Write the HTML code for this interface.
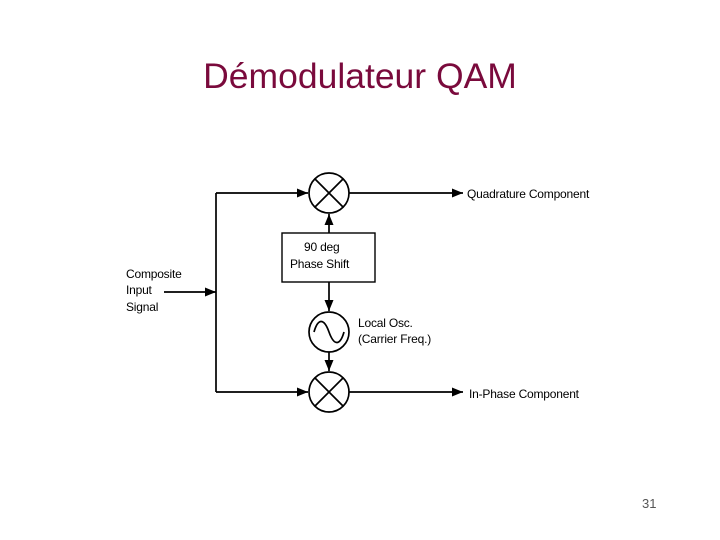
<!DOCTYPE html>
<html><head><style>
body{margin:0;width:720px;height:540px;background:#fff;overflow:hidden;font-family:"Liberation Sans",sans-serif}
</style></head><body>
<div style="position:absolute;left:0;width:720px;top:56px;text-align:center;font-size:35.5px;color:#7a0a3c">Démodulateur QAM</div>
<div style="position:absolute;left:642px;top:496px;font-size:13px;color:#555">31</div>
<svg width="720" height="540" style="position:absolute;left:0;top:0" font-family="Liberation Sans, sans-serif" font-size="12" letter-spacing="-0.2">
<defs><marker id="a" markerWidth="11" markerHeight="9" refX="11" refY="4.5" orient="auto" markerUnits="userSpaceOnUse"><path d="M0,0L11,4.5L0,9z" fill="#000"/></marker></defs>
<g stroke="#000" stroke-width="1.7" fill="none">
<path d="M216,193V392"/>
<path d="M216,193H308" marker-end="url(#a)"/>
<path d="M216,392H308" marker-end="url(#a)"/>
<path d="M164,292H216" marker-end="url(#a)"/>
<path d="M349,193H463" marker-end="url(#a)"/>
<path d="M349,392H463" marker-end="url(#a)"/>
<path d="M329,233V214" marker-end="url(#a)"/>
<path d="M329,282V311" marker-end="url(#a)"/>
<path d="M329,352V371" marker-end="url(#a)"/>
<rect x="282" y="233" width="93" height="49" stroke-width="1.4"/>
<circle cx="329" cy="193" r="20"/><path d="M315,179L343,207M343,179L315,207"/>
<circle cx="329" cy="392" r="20"/><path d="M315,378L343,406M343,378L315,406"/>
<circle cx="329" cy="332" r="20"/>
<path d="M314,332C318,318 324,318 329,332C334,346 340,346 344,332"/>
</g>
<text x="467" y="198">Quadrature Component</text>
<text x="469" y="398">In-Phase Component</text>
<text x="304" y="251">90 deg</text>
<text x="290" y="268">Phase Shift</text>
<text x="126" y="278">Composite</text>
<text x="126" y="294">Input</text>
<text x="126" y="311">Signal</text>
<text x="358" y="327">Local Osc.</text>
<text x="358" y="343">(Carrier Freq.)</text>
</svg>
</body></html>
